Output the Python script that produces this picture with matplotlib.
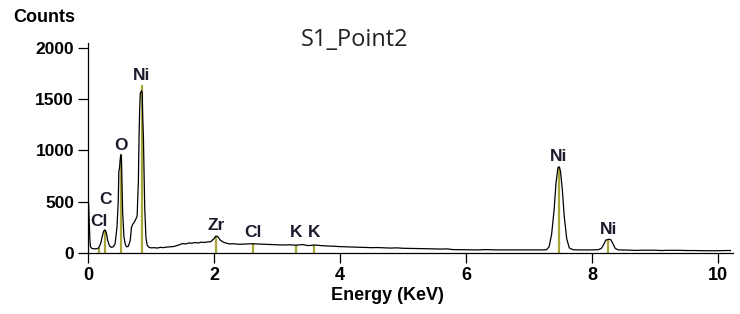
import matplotlib
matplotlib.use("Agg")
import matplotlib.pyplot as plt

# ---- spectrum (energy keV, counts) ----
energy = [0.00, 0.01, 0.02, 0.03, 0.04, 0.06, 0.10, 0.14, 0.17, 0.20, 0.23, 0.25, 0.27, 0.29,
          0.31, 0.34, 0.37, 0.40, 0.43, 0.46, 0.48, 0.49, 0.50, 0.51, 0.52, 0.53, 0.54, 0.55,
          0.57, 0.59, 0.61, 0.64, 0.67, 0.69, 0.71, 0.73, 0.76, 0.78, 0.80, 0.81, 0.82, 0.83,
          0.85, 0.86, 0.87, 0.88, 0.89, 0.90, 0.92, 0.94, 0.97, 1.00, 1.05, 1.10, 1.15, 1.20,
          1.25, 1.30, 1.35, 1.40, 1.45, 1.50, 1.55, 1.60, 1.65, 1.70, 1.75, 1.80, 1.85, 1.90,
          1.95, 2.00, 2.03, 2.06, 2.10, 2.15, 2.20, 2.25, 2.30, 2.40, 2.50, 2.60, 2.70, 2.80,
          2.90, 3.00, 3.10, 3.20, 3.30, 3.40, 3.50, 3.60, 3.70, 3.80, 3.90, 4.00, 4.10, 4.20,
          4.30, 4.40, 4.50, 4.60, 4.70, 4.80, 4.90, 5.00, 5.10, 5.20, 5.30, 5.40, 5.50, 5.60,
          5.70, 5.80, 6.00, 6.20, 6.30, 6.40, 6.50, 6.80, 7.00, 7.20, 7.28, 7.32, 7.36, 7.40,
          7.43, 7.46, 7.48, 7.50, 7.53, 7.56, 7.60, 7.64, 7.70, 7.80, 7.90, 8.00, 8.10, 8.15,
          8.19, 8.22, 8.26, 8.30, 8.33, 8.37, 8.42, 8.60, 8.70, 8.80, 9.00, 9.10, 9.20, 9.40,
          9.50, 9.60, 9.80, 10.00, 10.10, 10.20]
counts = [500, 480, 300, 120, 60, 45, 40, 42, 50, 90, 170, 215, 225, 200,
          130, 70, 55, 60, 90, 250, 500, 800, 820, 900, 955, 930, 680, 400,
          160, 90, 60, 65, 120, 250, 280, 295, 330, 360, 700, 1120, 1400, 1555,
          1580, 1560, 1300, 1120, 800, 450, 150, 75, 55, 50, 52, 48, 55, 52,
          58, 60, 62, 70, 80, 92, 88, 98, 95, 102, 98, 105, 103, 108,
          110, 140, 165, 160, 125, 105, 95, 88, 90, 85, 87, 90, 88, 85,
          82, 80, 78, 80, 76, 82, 72, 78, 72, 68, 66, 62, 60, 58,
          56, 55, 52, 53, 50, 48, 50, 46, 45, 45, 43, 42, 40, 38,
          40, 33, 32, 30, 33, 32, 30, 30, 30, 30, 32, 60, 180, 420,
          680, 830, 840, 800, 620, 360, 140, 50, 32, 30, 30, 30, 32, 45,
          85, 125, 133, 130, 95, 45, 30, 28, 25, 27, 27, 24, 26, 26,
          24, 24, 22, 22, 24, 24]

# ---- element marker lines ----
elem_names = ["Cl", "C", "O", "Ni", "Zr", "Cl", "K", "K", "Ni", "Ni"]
elem_energy = [0.18, 0.277, 0.525, 0.851, 2.04, 2.62, 3.31, 3.59, 7.47, 8.26]
elem_height = [50, 225, 960, 1640, 170, 95, 80, 75, 840, 135]
elem_label_y = [311, 525, 1051, 1732, 263, 195, 195, 195, 944, 224]

xticks = [0, 2, 4, 6, 8, 10]
yticks = [0, 500, 1000, 1500, 2000]

fig = plt.figure(figsize=(7.4, 3.14), dpi=100)
ax = fig.add_axes([88 / 740, 61 / 314, 645 / 740, 210.3 / 314])

ax.vlines(elem_energy, 0, elem_height, color="#a8a53a", lw=1.6, zorder=2)
ax.plot(energy, counts, color="black", lw=0.9, zorder=3)

for name, e, ly in zip(elem_names, elem_energy, elem_label_y):
    ax.text(e, ly, name, ha="center", va="center", fontsize=12.5,
            fontweight="bold", color="#1c1c2e", family="Liberation Sans")

ax.set_xlim(0, 10.24)
ax.set_ylim(0, 2047)
ax.set_xticks(xticks)
ax.set_yticks(yticks)
ax.spines["top"].set_visible(False)
ax.spines["right"].set_visible(False)
for s in ("left", "bottom"):
    ax.spines[s].set_linewidth(0.9)
ax.tick_params(axis="both", direction="out", length=7, width=0.9)
ax.tick_params(axis="y", pad=3)
ax.tick_params(axis="x", pad=3)
for lab in ax.get_yticklabels():
    lab.set_fontfamily("Liberation Sans")
    lab.set_fontweight("bold")
    lab.set_fontsize(12.5)
for lab in ax.get_xticklabels():
    lab.set_fontfamily("Liberation Sans")
    lab.set_fontweight("bold")
    lab.set_fontsize(13)

fig.text(13 / 740, 1 - 17 / 314, "Counts", ha="left", va="center", fontsize=13,
         fontweight="bold", family="Liberation Sans")
fig.text(355 / 740, 1 - 40 / 314, "S1_Point2", ha="center", va="center",
         fontsize=17, family="Open Sans", color="#222222")
fig.text(387 / 740, 1 - 296 / 314, "Energy (KeV)", ha="center", va="center",
         fontsize=13, fontweight="bold", family="Liberation Sans")

fig.savefig("out.png", dpi=100, facecolor="white")
